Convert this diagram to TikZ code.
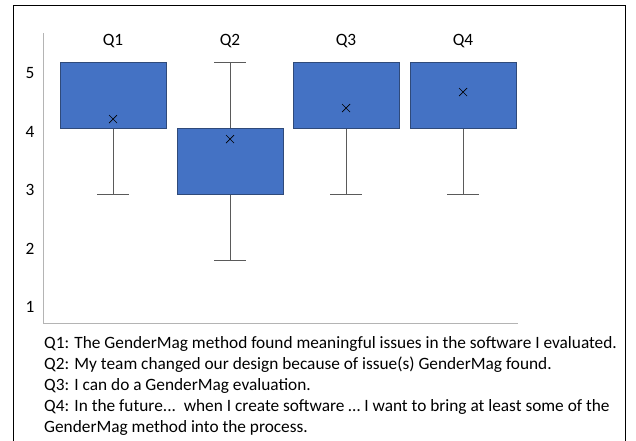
\documentclass[tikz,border=0pt]{standalone}
\usepackage{fontspec}
\setmainfont{Carlito}
\definecolor{boxblue}{HTML}{4472C4}
\definecolor{boxedge}{HTML}{2F4A7A}
\definecolor{whiskgray}{HTML}{5A5A5A}
\definecolor{axisgray}{HTML}{B4B4B4}
\tikzset{
  qbox/.style={draw=boxedge,fill=boxblue,line width=1pt,minimum width=106,minimum height=66,inner sep=0pt},
  whisk/.style={draw=whiskgray,line width=0.9pt},
  txt/.style={font=\fontsize{17.3}{21}\selectfont,inner sep=0pt}
}
\begin{document}
\begin{tikzpicture}[x=1pt,y=-1pt]
	\useasboundingbox (0,0) rectangle (636,440);
	\def\cw{16}
	% frame
	\draw[line width=0.8pt] (13,441) -- (13,5) -- (625,5) -- (625,441);
	% axes
	\coordinate (o) at (43,323);
	\draw[axisgray,line width=0.9pt] (43,33) -- (o) -- (518,323);
	\foreach \v/\y in {5/73,4/132,3/190,2/249,1/307}
		\node[txt,anchor=center] (t\v) at (30,\y) {\v};
	% boxes: center x / top / bottom / whisker end / mean
	\foreach \i/\x/\t/\b/\w/\m in {1/113/62/128/194/119,2/230/128/194/260/139,3/346/62/128/194/108,4/463/62/128/194/92}{
		\node[qbox,minimum height=\b-\t] (b\i) at (\x,{(\t+\b)/2}) {};
		\node[txt,anchor=center] (q\i) at (\x,41) {Q\i};
		\coordinate (c\i) at (\x,\w);
		\draw[whisk] (b\i.south) -- (c\i);
		\draw[whisk] ([xshift=-\cw]c\i) -- ([xshift=\cw]c\i);
		\draw[black,line width=0.7pt] (\x-4,\m-4) -- (\x+4,\m+4) (\x-4,\m+4) -- (\x+4,\m-4);
	}
	% upper whisker of Q2
	\coordinate (u2) at (230,62);
	\draw[whisk] (b2.north) -- (u2);
	\draw[whisk] ([xshift=-\cw]u2) -- ([xshift=\cw]u2);
	% legend lines
	\node[txt,anchor=base west] (l1) at (44,348) {Q1: The GenderMag method found meaningful issues in the software I evaluated.};
	\node[txt,anchor=base west] (l2) at (44,369) {Q2: My team changed our design because of issue(s) GenderMag found.};
	\node[txt,anchor=base west] (l3) at (44,390) {Q3: I can do a GenderMag evaluation.};
	\node[txt,anchor=base west] (l4) at (44,411) {Q4: In the future...\ \ when I create software \ldots\ I want to bring at least some of the};
	\node[txt,anchor=base west] (l5) at (44,432) {GenderMag method into the process.};
\end{tikzpicture}
\end{document}
